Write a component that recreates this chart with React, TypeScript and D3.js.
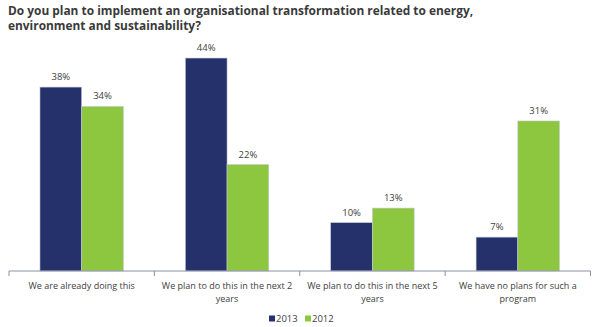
import React from "react";
import * as d3 from "d3";

const categories = [
  ["We are already doing this"],
  ["We plan to do this in the next 2", "years"],
  ["We plan to do this in the next 5", "years"],
  ["We have no plans for such a", "program"],
];
const seriesNames = ["2013", "2012"];
const values2013 = [38, 44, 10, 7];
const values2012 = [34, 22, 13, 31];
const colors = ["#24316a", "#8dc63f"];

const W = 600;
const H = 327;
const FONT = "'Open Sans', 'DejaVu Sans', sans-serif";

export default function App() {
  const x = d3.scaleBand<number>().domain(d3.range(categories.length)).range([9, 590.5]).paddingInner(0).paddingOuter(0);
  const bw = x.bandwidth();
  const xs = d3.scaleBand<string>().domain(seriesNames).range([0, bw]).paddingInner(0).paddingOuter(0.742);
  const y = d3.scaleLinear().domain([0, 50]).range([271, 29]);
  const series = [values2013, values2012];
  const baseY = y(0);

  return (
    <svg width={W} height={H} style={{ position: "absolute", left: 0, top: 0, background: "#fff" }}>
      <text x={8} y={14.5} fontFamily={FONT} fontWeight="bold" fontSize={11.9} fill="#3a3a3a">
        Do you plan to implement an organisational transformation related to energy,
      </text>
      <text x={8} y={29.5} fontFamily={FONT} fontWeight="bold" fontSize={11.9} fill="#3a3a3a">
        environment and sustainability?
      </text>
      {series.map((vals, si) =>
        vals.map((v, ci) => {
          const bx = (x(ci) as number) + (xs(seriesNames[si]) as number);
          const w = xs.bandwidth();
          return (
            <g key={`${si}-${ci}`}>
              <rect x={bx} y={y(v)} width={w} height={baseY - y(v)} fill={colors[si]} stroke="#c8cad4" strokeWidth={0.6} />
              <text x={bx + w / 2} y={y(v) - 7} textAnchor="middle" fontFamily={FONT} fontSize={9.5} fill="#404040">
                {v}%
              </text>
            </g>
          );
        })
      )}
      <line x1={x(0)} x2={(x(categories.length - 1) as number) + bw} y1={baseY} y2={baseY} stroke="#8c8fa6" strokeWidth={1} />
      {d3.range(categories.length + 1).map((i) => {
        const tx = i < categories.length ? (x(i) as number) : (x(categories.length - 1) as number) + bw;
        return <line key={i} x1={tx} x2={tx} y1={baseY} y2={baseY + 5} stroke="#8c8fa6" strokeWidth={1} />;
      })}
      {categories.map((lines, ci) => (
        <text key={ci} textAnchor="middle" fontFamily={FONT} fontSize={9} fill="#404040">
          {lines.map((l, li) => (
            <tspan key={li} x={(x(ci) as number) + bw / 2} y={289 + li * 13}>
              {l}
            </tspan>
          ))}
        </text>
      ))}
      {seriesNames.map((s, i) => {
        const lx = 269 + i * 36;
        return (
          <g key={s}>
            <rect x={lx} y={315.5} width={6} height={6} fill={colors[i]} />
            <text x={lx + 7} y={322} fontFamily={FONT} fontSize={9.5} fill="#404040">
              {s}
            </text>
          </g>
        );
      })}
    </svg>
  );
}
